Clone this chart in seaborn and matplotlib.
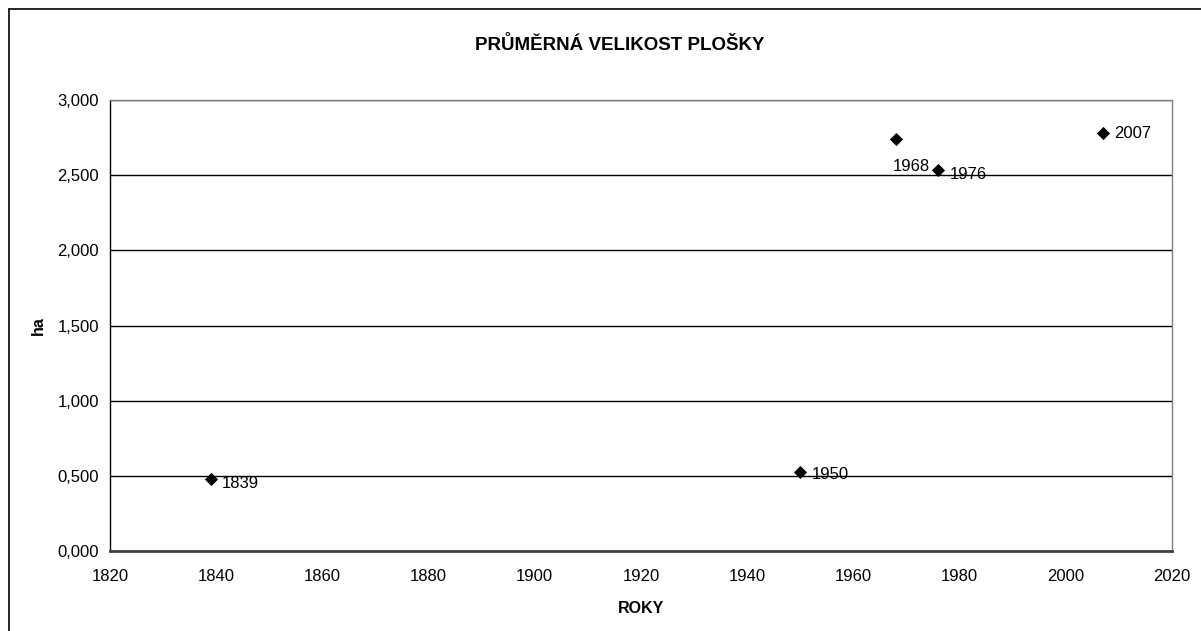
import matplotlib
matplotlib.use("Agg")
import matplotlib.pyplot as plt
import seaborn as sns
import pandas as pd
from matplotlib.ticker import FuncFormatter, MultipleLocator

# Data
years = [1839, 1950, 1968, 1976, 2007]
area_ha = [0.48, 0.527, 2.74, 2.533, 2.78]
point_labels = ["1839", "1950", "1968", "1976", "2007"]

title = "PRŮMĚRNÁ VELIKOST PLOŠKY"
x_label = "ROKY"
y_label = "ha"

df = pd.DataFrame({"rok": years, "ha": area_ha, "label": point_labels})

sns.set_style("white")
plt.rcParams["font.family"] = ["Liberation Sans", "DejaVu Sans"]
plt.rcParams["text.color"] = "black"
plt.rcParams["axes.labelcolor"] = "black"

W, H = 1201, 631
fig = plt.figure(figsize=(W / 100, H / 100), dpi=100)
fig.patch.set_facecolor("white")

# outer chart border (only top and left visible in crop)
fig.add_artist(plt.Line2D([8.5 / W, 8.5 / W], [0, 1 - 8.5 / H], color="black", lw=1.2,
                          transform=fig.transFigure))
fig.add_artist(plt.Line2D([8.5 / W, 1], [1 - 8.5 / H, 1 - 8.5 / H], color="black", lw=1.2,
                          transform=fig.transFigure))

L, R, T, B = 110, 1172, 100, 551
ax = fig.add_axes([L / W, 1 - B / H, (R - L) / W, (B - T) / H])

sns.scatterplot(data=df, x="rok", y="ha", marker="D", s=45, color="black",
                edgecolor="black", linewidth=0, ax=ax, zorder=5, clip_on=False)

ax.set_xlim(1820, 2020)
ax.set_ylim(0, 3.0)
ax.xaxis.set_major_locator(MultipleLocator(20))
ax.yaxis.set_major_locator(MultipleLocator(0.5))
ax.yaxis.set_major_formatter(FuncFormatter(lambda v, p: f"{v:.3f}".replace(".", ",")))
ax.yaxis.grid(True, color="black", lw=1.0)
ax.xaxis.grid(False)
ax.set_axisbelow(True)

for s in ["top", "right"]:
    ax.spines[s].set_color("#808080")
    ax.spines[s].set_linewidth(1.0)
ax.spines["left"].set_color("black")
ax.spines["left"].set_linewidth(1.0)
ax.spines["bottom"].set_color("#404040")
ax.spines["bottom"].set_linewidth(2.0)

ax.tick_params(axis="both", direction="out", length=5, width=1, color="black",
               labelsize=12, labelcolor="black", pad=3)
ax.tick_params(axis="x", pad=8)

ax.set_xlabel(x_label, fontsize=11.5, fontweight="bold", labelpad=12, color="black")
ax.set_ylabel(y_label, fontsize=11.5, fontweight="bold", labelpad=8, color="black")
ax.set_title(title, fontsize=13.5, fontweight="bold", pad=36, color="black",
             x=(620 - L) / (R - L))

# label offsets in points (position styling)
offsets = {"1839": (8, -3), "1950": (8, -2), "1968": (-2, -20), "1976": (8, -3), "2007": (8, 0)}
for x, y, lab in zip(df["rok"], df["ha"], df["label"]):
    dx, dy = offsets[lab]
    ax.annotate(lab, (x, y), xytext=(dx, dy), textcoords="offset points",
                ha="left", va="center", fontsize=12, color="black", zorder=6)

fig.savefig("out.png", dpi=100, facecolor="white")
